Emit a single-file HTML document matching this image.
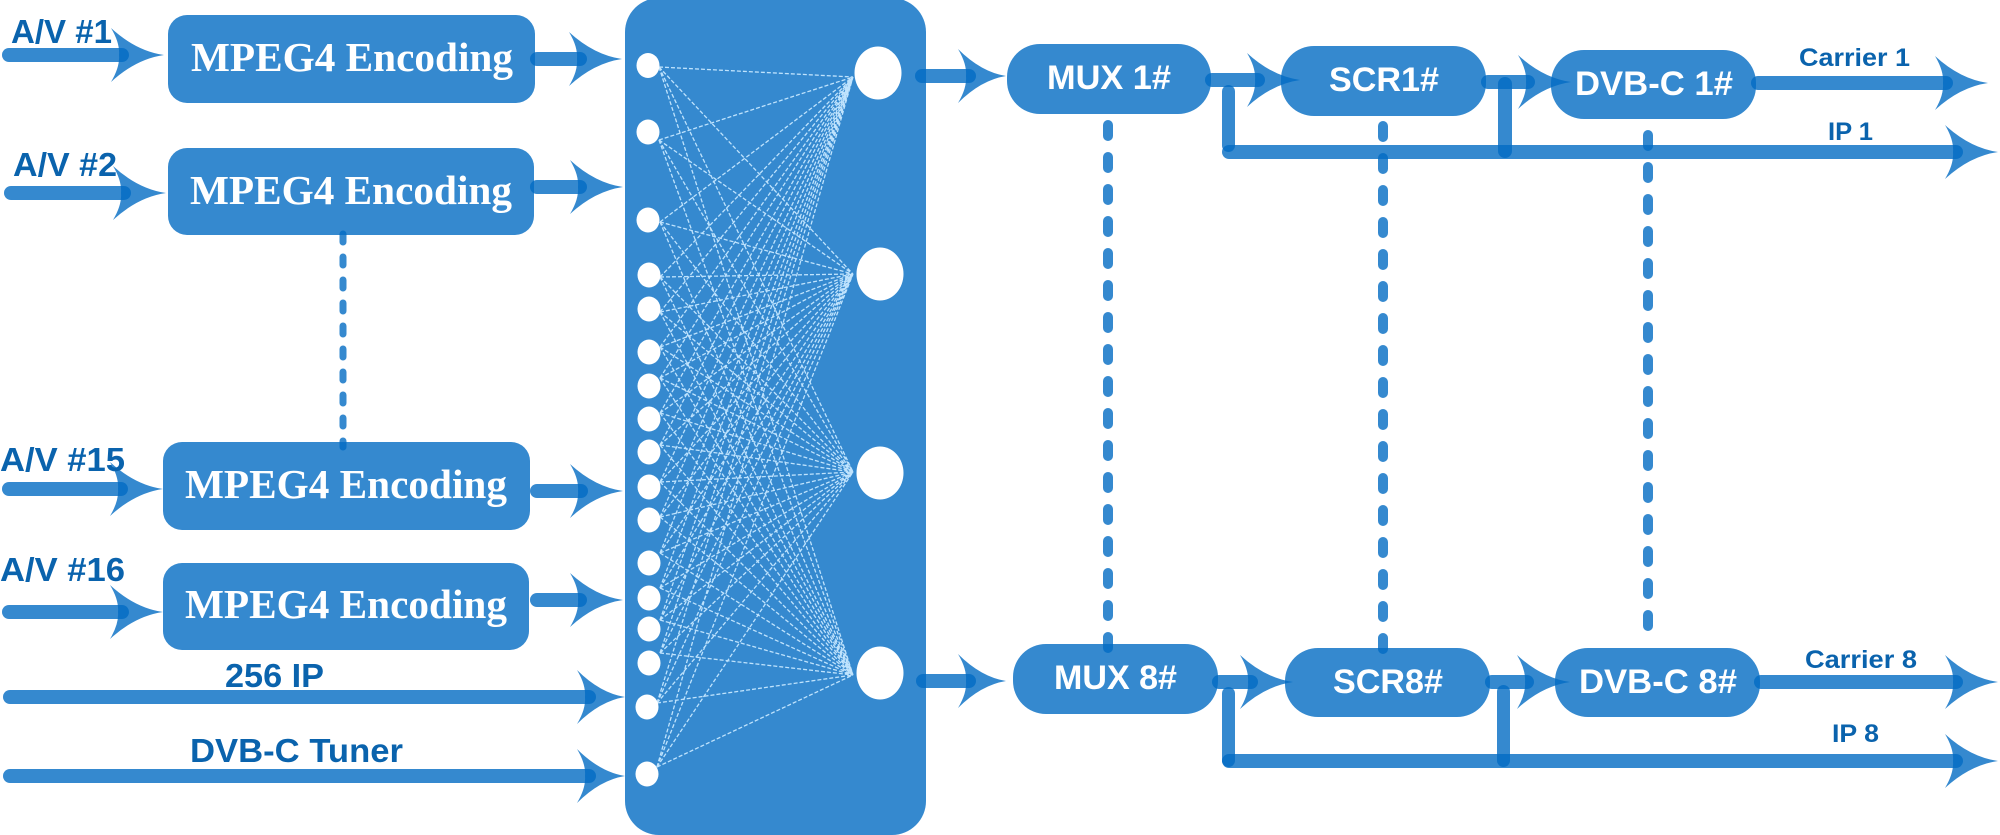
<!DOCTYPE html>
<html lang="en">
<head>
<meta charset="utf-8">
<title>Headend diagram</title>
<style>
html,body{margin:0;padding:0;background:#fff;width:2000px;height:835px;overflow:hidden}
svg{display:block}
.s{fill:#036bc3;fill-opacity:.8}
.e{font:bold 41px "Liberation Serif",serif;fill:#fff}
.w{font:bold 34px "Liberation Sans",sans-serif;fill:#fff}
.b{font:bold 33px "Liberation Sans",sans-serif;fill:#0a63ad}
.c{font:bold 25px "Liberation Sans",sans-serif;fill:#0a63ad}
.n{fill:#fff}
.d{fill:none;stroke:#036bc3;stroke-opacity:.8;stroke-linecap:round}
.m{fill:none;stroke:#bfe3fd;stroke-width:1.3;stroke-dasharray:4 2}
</style>
</head>
<body>
<svg width="2000" height="835" viewBox="0 0 2000 835" xmlns="http://www.w3.org/2000/svg">
<defs>
<path id="a" class="s" d="M0-27Q9-12 8 0Q9 12 0 27Q25 4 53 0Q25-4 0-27Z"/>
<path id="a2" class="s" d="M0-27Q9-12 8 0Q9 12 0 27Q23 4 48 0Q23-4 0-27Z"/>
</defs>
<rect width="2000" height="835" fill="#fff"/>

<!-- main panel -->
<rect class="s" x="625" y="-2" width="301" height="837" rx="34" ry="34"/>

<!-- encoding boxes -->
<rect class="s" x="168" y="15" width="367" height="88" rx="19"/>
<rect class="s" x="168" y="148" width="366" height="87" rx="19"/>
<rect class="s" x="163" y="442" width="367" height="88" rx="19"/>
<rect class="s" x="163" y="563" width="366" height="87" rx="19"/>

<!-- right boxes -->
<rect class="s" x="1007" y="44" width="204" height="70" rx="33"/>
<rect class="s" x="1281" y="46" width="205" height="70" rx="33"/>
<rect class="s" x="1551" y="50" width="205" height="69" rx="33"/>
<rect class="s" x="1013" y="644" width="205" height="70" rx="33"/>
<rect class="s" x="1285" y="648" width="205" height="69" rx="33"/>
<rect class="s" x="1555" y="648" width="205" height="69" rx="33"/>

<!-- left connectors -->
<rect class="s" x="2" y="48" width="127" height="14" rx="7"/><use href="#a" x="111" y="55"/>
<rect class="s" x="4" y="186" width="127" height="14" rx="7"/><use href="#a" x="113" y="193"/>
<rect class="s" x="2" y="482" width="126" height="14" rx="7"/><use href="#a" x="110" y="489"/>
<rect class="s" x="2" y="605" width="127" height="14" rx="7"/><use href="#a" x="110" y="612"/>
<rect class="s" x="3" y="690" width="593" height="14" rx="7"/><use href="#a2" x="577" y="697"/>
<rect class="s" x="3" y="769" width="593" height="14" rx="7"/><use href="#a2" x="577" y="776"/>

<rect class="s" x="530" y="52" width="57" height="14" rx="7"/><use href="#a" x="569" y="59"/>
<rect class="s" x="530" y="180" width="57" height="14" rx="7"/><use href="#a" x="570" y="187"/>
<rect class="s" x="530" y="484" width="58" height="14" rx="7"/><use href="#a" x="570" y="491"/>
<rect class="s" x="530" y="593" width="57" height="14" rx="7"/><use href="#a" x="570" y="600"/>

<!-- right connectors top -->
<rect class="s" x="915" y="69" width="61" height="14" rx="7"/><use href="#a2" x="958" y="76"/>
<rect class="s" x="1205" y="73" width="60" height="14" rx="7"/><use href="#a" x="1247" y="80"/>
<rect class="s" x="1481" y="75" width="54" height="14" rx="7"/><use href="#a" x="1518" y="82"/>
<rect class="s" x="1751" y="76" width="202" height="14" rx="7"/><use href="#a" x="1935" y="83"/>
<rect class="s" x="1222" y="145" width="741" height="14" rx="7"/><use href="#a" x="1945" y="152"/>
<rect class="s" x="1222" y="85" width="13" height="67" rx="6.500"/>
<rect class="s" x="1498" y="77" width="14" height="81" rx="7"/>

<!-- right connectors bottom -->
<rect class="s" x="916" y="674" width="60" height="14" rx="7"/><use href="#a2" x="958" y="681"/>
<rect class="s" x="1212" y="675" width="46" height="14" rx="7"/><use href="#a" x="1240" y="682"/>
<rect class="s" x="1485" y="675" width="49" height="14" rx="7"/><use href="#a" x="1517" y="682"/>
<rect class="s" x="1754" y="675" width="209" height="14" rx="7"/><use href="#a" x="1945" y="682"/>
<rect class="s" x="1222" y="754" width="741" height="14" rx="7"/><use href="#a" x="1945" y="761"/>
<rect class="s" x="1222" y="687" width="13" height="80" rx="6.500"/>
<rect class="s" x="1497" y="685" width="13" height="82" rx="6.500"/>

<!-- dashed verticals -->
<line class="d" x1="343" y1="234" x2="343" y2="447" stroke-width="7" stroke-dasharray="8 15"/>
<line class="d" x1="1108" y1="125" x2="1108" y2="648" stroke-width="10" stroke-dasharray="11 21"/>
<line class="d" x1="1383" y1="126" x2="1383" y2="650" stroke-width="10" stroke-dasharray="11 21"/>
<line class="d" x1="1648" y1="135" x2="1648" y2="635" stroke-width="10" stroke-dasharray="11 21"/>

<!-- mesh -->
<path class="m" d="M659 67L853 77M659 140L853 77M660 222L853 77M660 277L853 77M660 312L853 77M660 347L853 77M660 378L853 77M660 413L853 77M660 445L853 77M660 482L853 77M660 517L853 77M660 553L853 77M660 588L853 77M660 620L853 77M660 653L853 77M657 703L853 77M657 767L853 77"/>
<path class="m" d="M659 67L853 274M659 140L853 274M660 222L853 274M660 277L853 274M660 312L853 274M660 347L853 274M660 378L853 274M660 413L853 274M660 445L853 274M660 482L853 274M660 517L853 274M660 553L853 274M660 588L853 274M660 620L853 274M660 653L853 274M657 703L853 274M657 767L853 274"/>
<path class="m" d="M659 67L853 472M659 140L853 472M660 222L853 472M660 277L853 472M660 312L853 472M660 347L853 472M660 378L853 472M660 413L853 472M660 445L853 472M660 482L853 472M660 517L853 472M660 553L853 472M660 588L853 472M660 620L853 472M660 653L853 472M657 703L853 472M657 767L853 472"/>
<path class="m" d="M659 67L853 675M659 140L853 675M660 222L853 675M660 277L853 675M660 312L853 675M660 347L853 675M660 378L853 675M660 413L853 675M660 445L853 675M660 482L853 675M660 517L853 675M660 553L853 675M660 588L853 675M660 620L853 675M660 653L853 675M657 703L853 675M657 767L853 675"/>

<!-- nodes -->
<g class="n">
<ellipse cx="648" cy="65.500" rx="11.500" ry="12.500"/>
<ellipse cx="648" cy="132" rx="11.500" ry="12.500"/>
<ellipse cx="648" cy="220" rx="11.500" ry="12.500"/>
<ellipse cx="649" cy="275" rx="11.500" ry="12.500"/>
<ellipse cx="649" cy="309" rx="11.500" ry="12.500"/>
<ellipse cx="649" cy="352" rx="11.500" ry="12.500"/>
<ellipse cx="649" cy="386" rx="11.500" ry="12.500"/>
<ellipse cx="649" cy="419" rx="11.500" ry="12.500"/>
<ellipse cx="649" cy="452" rx="11.500" ry="12.500"/>
<ellipse cx="649" cy="487" rx="11.500" ry="12.500"/>
<ellipse cx="649" cy="520" rx="11.500" ry="12.500"/>
<ellipse cx="649" cy="563" rx="11.500" ry="12.500"/>
<ellipse cx="649" cy="598" rx="11.500" ry="12.500"/>
<ellipse cx="649" cy="629" rx="11.500" ry="12.500"/>
<ellipse cx="649" cy="663" rx="11.500" ry="12.500"/>
<ellipse cx="647" cy="707" rx="11.500" ry="12.500"/>
<ellipse cx="647" cy="774" rx="11.500" ry="12.500"/>
<ellipse cx="878" cy="73" rx="23.500" ry="26.500"/>
<ellipse cx="880" cy="274" rx="23.500" ry="26.500"/>
<ellipse cx="880" cy="473" rx="23.500" ry="26.500"/>
<ellipse cx="880" cy="673" rx="23.500" ry="26.500"/>
</g>

<!-- text -->
<text class="e" x="191" y="71" textLength="322" lengthAdjust="spacingAndGlyphs">MPEG4 Encoding</text>
<text class="e" x="190" y="204" textLength="322" lengthAdjust="spacingAndGlyphs">MPEG4 Encoding</text>
<text class="e" x="185" y="498" textLength="322" lengthAdjust="spacingAndGlyphs">MPEG4 Encoding</text>
<text class="e" x="185" y="618" textLength="322" lengthAdjust="spacingAndGlyphs">MPEG4 Encoding</text>

<text class="b" x="11" y="43" textLength="101" lengthAdjust="spacingAndGlyphs">A/V #1</text>
<text class="b" x="13" y="176" textLength="104" lengthAdjust="spacingAndGlyphs">A/V #2</text>
<text class="b" x="0" y="471" textLength="125" lengthAdjust="spacingAndGlyphs">A/V #15</text>
<text class="b" x="0" y="581" textLength="125" lengthAdjust="spacingAndGlyphs">A/V #16</text>
<text class="b" x="225" y="687" textLength="99" lengthAdjust="spacingAndGlyphs">256 IP</text>
<text class="b" x="190" y="762" textLength="213" lengthAdjust="spacingAndGlyphs">DVB-C Tuner</text>

<text class="w" x="1047" y="89" textLength="124" lengthAdjust="spacingAndGlyphs">MUX 1#</text>
<text class="w" x="1329" y="91" textLength="110" lengthAdjust="spacingAndGlyphs">SCR1#</text>
<text class="w" x="1575" y="95" textLength="158" lengthAdjust="spacingAndGlyphs">DVB-C 1#</text>
<text class="w" x="1054" y="689" textLength="123" lengthAdjust="spacingAndGlyphs">MUX 8#</text>
<text class="w" x="1333" y="693" textLength="110" lengthAdjust="spacingAndGlyphs">SCR8#</text>
<text class="w" x="1579" y="693" textLength="158" lengthAdjust="spacingAndGlyphs">DVB-C 8#</text>

<text class="c" x="1799" y="66" textLength="111" lengthAdjust="spacingAndGlyphs">Carrier 1</text>
<text class="c" x="1828" y="140" textLength="45" lengthAdjust="spacingAndGlyphs">IP 1</text>
<text class="c" x="1805" y="668" textLength="112" lengthAdjust="spacingAndGlyphs">Carrier 8</text>
<text class="c" x="1832" y="742" textLength="47" lengthAdjust="spacingAndGlyphs">IP 8</text>
</svg>
</body>
</html>
